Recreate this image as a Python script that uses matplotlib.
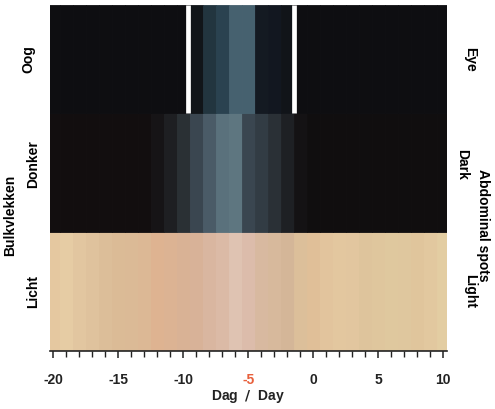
import numpy as np
import matplotlib
matplotlib.use("Agg")
import matplotlib.pyplot as plt

# ------------------------------------------------------------------ #
#  DATA  (one colour per day)
# ------------------------------------------------------------------ #

days = list(range(-20, 11))

eye_colors = (
    ["#0e0e11"] * 11                      # -20 .. -10
    + ["#111519", "#22353f", "#2a4250", "#46616f", "#46616f",
       "#141a22", "#121720", "#111419"]   # -9 .. -2
    + ["#0e0e11"] * 12                    # -1 .. 10
)

dark_colors = (
    ["#120e0f"] * 8                       # -20 .. -13
    + ["#161416", "#1e1f22", "#2a3034", "#3a4650", "#4a5b67",
       "#5a717c", "#5e7680", "#3a4650", "#323c44", "#2a3036",
       "#1e2024", "#141214"]              # -12 .. -1
    + ["#100e0f"] * 11                    # 0 .. 10
)

light_colors = [
    "#e5c8a0", "#e6cca4", "#e2c6a0", "#dfc29d", "#dcbe99", "#dbbb96",
    "#dbba96", "#dcb895", "#deb391", "#dcb393", "#d9b295", "#d8b298",
    "#d9b6a0", "#dbbaa6", "#dfc3b2", "#dcbcab", "#d8b9a0", "#d7b99c",
    "#d4b698", "#dcbf9a", "#e0bf98", "#e2c49d", "#e3c79f", "#e2c69f",
    "#dec49c", "#dfc69d", "#dfc89e", "#dfc79e", "#e0c59c", "#e2c89f",
    "#e3cda2",
]

eye_marks = [-9.6, -1.5]                  # white lines in the eye band

band_edges = [0.0, 1.0, 2.0, 2.91]       # light / dark / eye
tick_labels = ["-20", "-15", "-10", "-5", "0", "5", "10"]
tick_days = [-20, -15, -10, -5, 0, 5, 10]

# ------------------------------------------------------------------ #
#  Plot
# ------------------------------------------------------------------ #

plt.rcParams["font.family"] = ["Liberation Sans", "DejaVu Sans"]
plt.rcParams["font.weight"] = "bold"

fig = plt.figure(figsize=(4.95, 4.1), dpi=100)
ax = fig.add_axes([0.101, 0.1415, 0.802, 0.8435])

for colors, lo, hi in [
    (light_colors, band_edges[0], band_edges[1]),
    (dark_colors, band_edges[1], band_edges[2]),
    (eye_colors, band_edges[2], band_edges[3]),
]:
    ax.bar(days, hi - lo, bottom=lo, width=1.0, color=colors,
           edgecolor=colors, linewidth=0.6, align="center")

ax.vlines(eye_marks, band_edges[2], band_edges[3], colors="white", linewidth=3.4)

ax.set_xlim(-20.25, 10.3)
ax.set_ylim(band_edges[0], band_edges[3])

for side in ["top", "left", "right"]:
    ax.spines[side].set_visible(False)
ax.spines["bottom"].set_linewidth(1.2)
ax.spines["bottom"].set_color("#222222")

ax.set_yticks([])
ax.set_xticks(tick_days)
ax.set_xticklabels(tick_labels, fontsize=10, fontweight="bold", color="#222222")
ax.set_xticks(range(-20, 11), minor=True)
ax.tick_params(axis="x", which="major", length=5, width=1.1, color="#222222", pad=10)
ax.tick_params(axis="x", which="minor", length=4, width=1.0, color="#222222")
ax.get_xticklabels()[3].set_color("#e8603c")

ax.set_xlabel("Dag  $\\mathit{/}$  Day", fontsize=10, fontweight="bold",
              color="#222222", labelpad=1)

# left labels (Dutch)
fig.text(0.057, 0.855, "Oog", rotation=90, ha="center", va="center", fontsize=10)
fig.text(0.066, 0.6, "Donker", rotation=90, ha="center", va="center", fontsize=10)
fig.text(0.066, 0.29, "Licht", rotation=90, ha="center", va="center", fontsize=10)
fig.text(0.021, 0.475, "Bulkvlekken", rotation=90, ha="center", va="center", fontsize=10)

# right labels (English)
fig.text(0.949, 0.855, "Eye", rotation=-90, ha="center", va="center", fontsize=10)
fig.text(0.933, 0.6, "Dark", rotation=-90, ha="center", va="center", fontsize=10)
fig.text(0.975, 0.45, "Abdominal spots", rotation=-90, ha="center", va="center", fontsize=10)
fig.text(0.949, 0.29, "Light", rotation=-90, ha="center", va="center", fontsize=10)

fig.savefig("out.png", dpi=100)
